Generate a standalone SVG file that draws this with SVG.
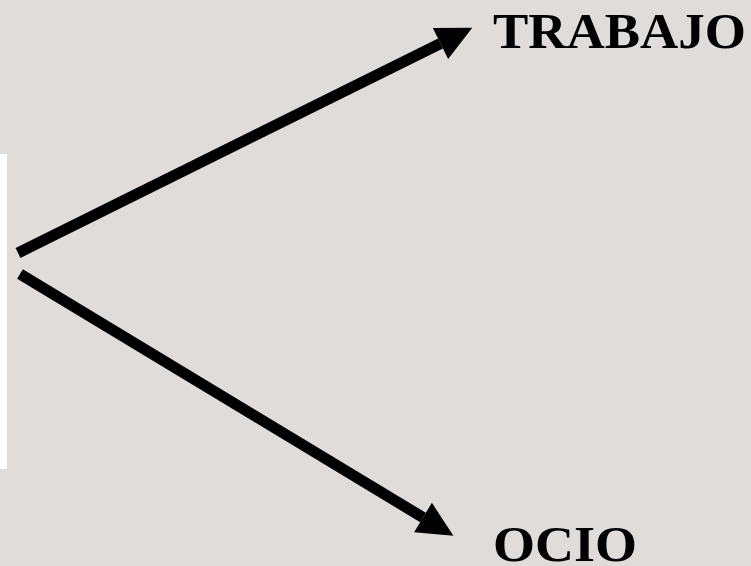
<svg xmlns="http://www.w3.org/2000/svg" width="751" height="566" viewBox="0 0 751 566">
<style>
.bg{fill:#e0dcd9}
.conn{stroke:#000;stroke-width:11;fill:none;marker-end:url(#ah)}
.lbl{font-family:"Liberation Serif","Times New Roman",serif;font-weight:bold;font-size:50px;fill:#000}
</style>
<defs>
<marker id="ah" markerUnits="userSpaceOnUse" markerWidth="36" markerHeight="35" refX="0" refY="17.2" orient="auto" overflow="visible">
<path d="M0,0 L35.5,17.2 L0,34.4 Z" fill="#000"/>
</marker>
</defs>
<rect class="bg" x="0" y="0" width="751" height="566"/>
<g id="panel"><rect x="0" y="154" width="7" height="315" fill="#ffffff"/></g>
<g id="connectors">
<line class="conn" x1="18" y1="253" x2="440.5" y2="43.5"/>
<line class="conn" x1="20" y1="274" x2="423" y2="517.5"/>
</g>
<g id="trabajo"><text class="lbl" x="493" y="48" textLength="253" lengthAdjust="spacingAndGlyphs">TRABAJO</text></g>
<g id="ocio"><text class="lbl" x="493" y="561" textLength="144" lengthAdjust="spacingAndGlyphs">OCIO</text></g>
</svg>
